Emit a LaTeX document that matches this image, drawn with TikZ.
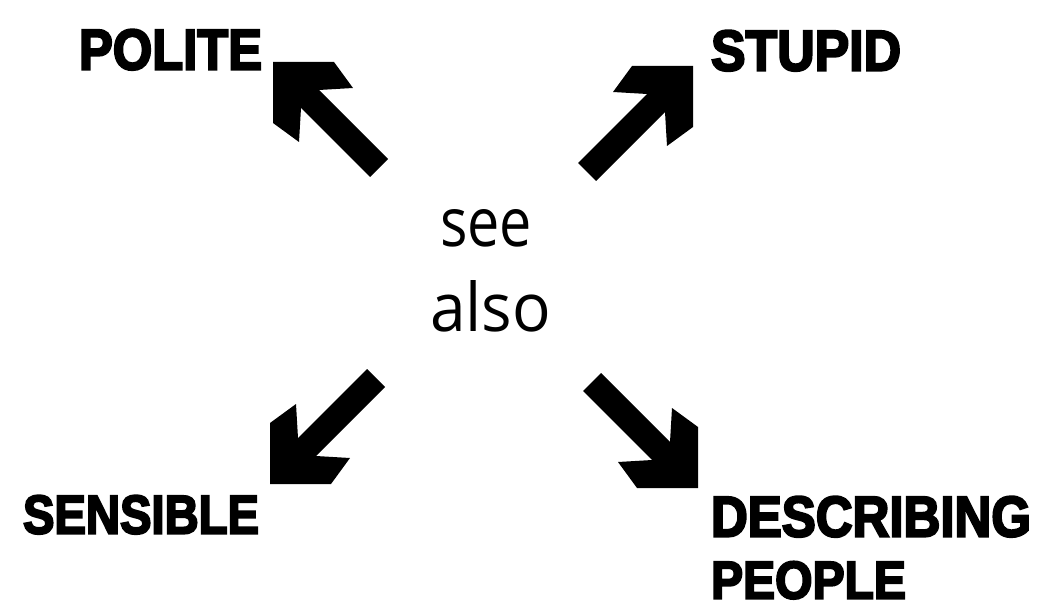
\documentclass[tikz,border=0pt]{standalone}
\usepackage{fontspec}
\usepackage{graphicx}
\newfontfamily\lab{Liberation Sans}[FakeBold=4]
\newfontfamily\seefont{Open Sans}
\newlength\px
\setlength\px{0.02cm}
\tikzset{
  lbl/.style={inner sep=0pt, outer sep=0pt, font=\lab\bfseries},
  mid/.style={inner sep=0pt, outer sep=0pt, font=\seefont},
  bigarrow/.pic={\fill[black] (0,0) -- (61,0) -- (80,26) -- (46,28) -- (115,97) -- (97,115) -- (28,46) -- (26,80) -- (0,61) -- cycle;}
}
\begin{document}
\begin{tikzpicture}[x=0.02cm, y=-0.02cm]
\useasboundingbox[fill=white] (0,0) rectangle (1037,604);
% labels
\node[lbl, anchor=south west] (polite) at (79,70) {\resizebox{183\px}{40\px}{POLITE}};
\node[lbl, anchor=south west] (stupid) at (711,71) {\resizebox{190\px}{40\px}{STUPID}};
\node[lbl, anchor=south west] (sensible) at (23,534) {\resizebox{236\px}{38\px}{SENSIBLE}};
\node[lbl, anchor=south west] (describing) at (711,537) {\resizebox{320\px}{40\px}{DESCRIBING}};
\node[lbl, anchor=south west] (people) at (711,599) {\resizebox{195\px}{37\px}{PEOPLE}};
% centre text
\node[mid, anchor=south west] (see) at (440,247) {\resizebox{92\px}{37\px}{see}};
\node[mid, anchor=south west] (also) at (430,332) {\resizebox{121\px}{51\px}{also}};
% arrows
\pic at (273,62) {bigarrow};
\pic[xscale=-1] at (693,66) {bigarrow};
\pic[yscale=-1] at (270,484) {bigarrow};
\pic[xscale=-1, yscale=-1] at (698,488) {bigarrow};
\end{tikzpicture}
\end{document}
